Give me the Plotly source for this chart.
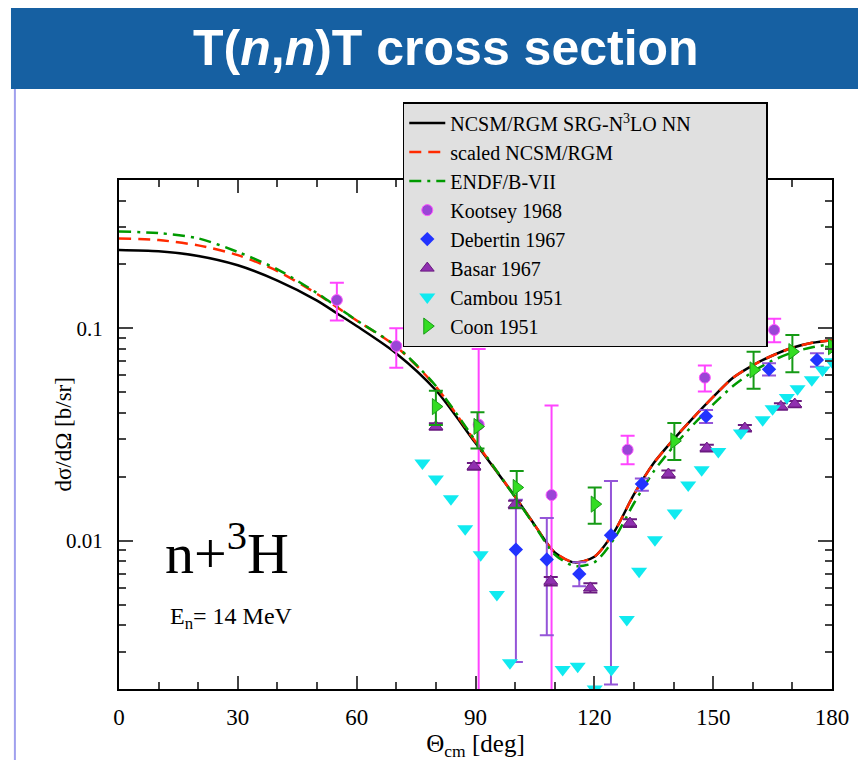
import plotly.graph_objects as go

# ---------------- data ----------------
curve_angle = [0, 10, 20, 30, 40, 50, 55, 60, 70, 80, 90, 100, 105, 110, 115, 120,
               125, 130, 135, 140, 145, 150, 155, 160, 165, 170, 175, 180]
ncsm = [0.234, 0.2307, 0.2193, 0.1982, 0.1679, 0.1352, 0.1178, 0.1026, 0.0762, 0.0511, 0.0288,
        0.0161, 0.0118, 0.0088, 0.0079, 0.0084, 0.0110, 0.0165, 0.0232, 0.0300, 0.0380,
        0.0475, 0.0585, 0.0670, 0.0745, 0.0810, 0.0855, 0.0880]
scaled = [0.265, 0.2606, 0.246, 0.2213, 0.1862, 0.1452, 0.1259, 0.1089, 0.0820, 0.0532, 0.0292,
          0.0161, 0.0118, 0.0088, 0.0079, 0.0084, 0.0110, 0.0165, 0.0232, 0.0300, 0.0380,
          0.0475, 0.0585, 0.0670, 0.0745, 0.0810, 0.0855, 0.0880]
endf = [0.286, 0.281, 0.2655, 0.229, 0.1897, 0.1466, 0.1265, 0.1091, 0.0824, 0.0535, 0.0295,
        0.0160, 0.0117, 0.0086, 0.0076, 0.0079, 0.0102, 0.0150, 0.0212, 0.0278, 0.0352,
        0.0438, 0.0535, 0.0625, 0.0705, 0.0770, 0.0815, 0.0845]

kootsey_x = [55, 70, 90.8, 109.2, 128.4, 147.9, 165.4]
kootsey_y = [0.136, 0.0826, 0.0352, 0.0164, 0.0268, 0.0586, 0.0983]
kootsey_hi = [0.164, 0.100, 0.080, 0.0433, 0.0312, 0.0668, 0.111]
kootsey_lo = [0.109, 0.0653, 0.0005, 0.0005, 0.0229, 0.0504, 0.086]

debertin_x = [100.2, 108.0, 116.2, 124.2, 132.0, 148.2, 164.1, 176.2]
debertin_y = [0.00908, 0.00815, 0.00697, 0.0106, 0.0185, 0.0385, 0.0641, 0.0710]
debertin_hi = [0.0156, 0.0128, 0.0079, 0.0191, 0.0196, 0.0413, 0.0685, 0.0763]
debertin_lo = [0.00268, 0.00358, 0.0061, 0.0021, 0.0172, 0.0358, 0.0599, 0.0660]

basar_x = [80, 89.6, 100, 109, 119, 129, 138.7, 148.4, 158, 167.1, 170.6]
basar_y = [0.0345, 0.0224, 0.0148, 0.00644, 0.00599, 0.0121, 0.0206, 0.0273, 0.0339, 0.0429, 0.0440]
basar_err = [0.0012, 0.0008, 0.0006, 0.0003, 0.0003, 0.0005, 0.0008, 0.0010, 0.0012, 0.0015, 0.0015]

cambou_x = [76.6, 80, 83.8, 87.4, 91.3, 95.4, 98.7, 112, 115.8, 120.1, 124.3, 128.2, 131.3,
            135.3, 140.3, 143.7, 147.1, 151.3, 157, 162.5, 165, 168.6, 171.3, 174.9, 177.6, 180]
cambou_y = [0.0232, 0.0195, 0.01576, 0.01138, 0.00859, 0.00557, 0.00266, 0.00247, 0.00256,
            0.0020, 0.00247, 0.00425, 0.00718, 0.0101, 0.0135, 0.0183, 0.0216, 0.0263,
            0.0321, 0.0371, 0.0418, 0.0472, 0.0519, 0.0572, 0.0637, 0.0697]

coon_x = [80, 90.5, 100.4, 120.1, 140.2, 160.2, 170, 180]
coon_y = [0.0428, 0.0345, 0.0178, 0.01486, 0.0295, 0.0637, 0.0777, 0.082]
coon_hi = [0.0508, 0.0403, 0.0213, 0.0178, 0.0358, 0.0777, 0.093, 0.082]
coon_lo = [0.0351, 0.0272, 0.0143, 0.0120, 0.0240, 0.0519, 0.0621, 0.082]

x_ticks = [0, 30, 60, 90, 120, 150, 180]
y_ticks = [0.01, 0.1]
y_ticktext = ["0.01", "0.1"]

# ---------------- figure ----------------
SERIF = "Liberation Serif, Times New Roman, serif"
PAD = "\u00a0" * 14  # widen legend box to match the reference frame
fig = go.Figure()

fig.add_trace(go.Scatter(x=curve_angle, y=ncsm, mode="lines",
                         line=dict(color="black", width=2.5, shape="spline", smoothing=0.8),
                         name="NCSM/RGM SRG-N<sup>3</sup>LO NN" + PAD))
fig.add_trace(go.Scatter(x=curve_angle, y=scaled, mode="lines",
                         line=dict(color="#ff2a00", width=2.5, dash="12px,7px", shape="spline", smoothing=0.8),
                         name="scaled NCSM/RGM"))
fig.add_trace(go.Scatter(x=curve_angle, y=endf, mode="lines",
                         line=dict(color="#009a00", width=2.5, dash="12px,6px,3px,6px", shape="spline", smoothing=0.8),
                         name="ENDF/B-VII"))


def errs(y, hi, lo):
    return [h - v for v, h in zip(y, hi)], [v - l for v, l in zip(y, lo)]


kp, km = errs(kootsey_y, kootsey_hi, kootsey_lo)
fig.add_trace(go.Scatter(x=kootsey_x, y=kootsey_y, mode="markers", name="Kootsey 1968",
                         marker=dict(symbol="circle", size=11, color="#9a45d6",
                                     line=dict(color="#ff55ff", width=1)),
                         error_y=dict(type="data", array=kp, arrayminus=km, color="#ff44ff",
                                      thickness=2, width=7)))
dp, dm = errs(debertin_y, debertin_hi, debertin_lo)
fig.add_trace(go.Scatter(x=debertin_x, y=debertin_y, mode="markers", name="Debertin 1967",
                         marker=dict(symbol="diamond", size=11, color="#2233ff"),
                         error_y=dict(type="data", array=dp, arrayminus=dm, color="#9455d8",
                                      thickness=2, width=7)))
fig.add_trace(go.Scatter(x=basar_x, y=basar_y, mode="markers", name="Basar 1967",
                         marker=dict(symbol="triangle-up", size=12, color="#9030b0",
                                     line=dict(color="#6a1a80", width=1)),
                         error_y=dict(type="data", array=basar_err, color="#6a1a80",
                                      thickness=2, width=7)))
fig.add_trace(go.Scatter(x=cambou_x, y=cambou_y, mode="markers", name="Cambou 1951",
                         marker=dict(symbol="triangle-down", size=14, color="#10eaf0")))
cp, cm = errs(coon_y, coon_hi, coon_lo)
fig.add_trace(go.Scatter(x=coon_x, y=coon_y, mode="markers", name="Coon 1951",
                         marker=dict(symbol="triangle-right", size=14, color="#33dd22",
                                     line=dict(color="#1a9a1a", width=1)),
                         error_y=dict(type="data", array=cp, arrayminus=cm, color="#159a15",
                                      thickness=2, width=7)))

minor_y = [m * 10 ** e for e in (-3, -2, -1) for m in range(2, 10)]

fig.update_layout(
    width=866, height=760,
    margin=dict(l=111, r=42, t=172, b=79),
    paper_bgcolor="white", plot_bgcolor="white",
    font=dict(family=SERIF, color="black", size=20),
    showlegend=True,
    legend=dict(x=0.398, y=1.153, xanchor="left", yanchor="top",
                bgcolor="#e0e0e0", bordercolor="black", borderwidth=1.5,
                font=dict(family=SERIF, size=20, color="black"), tracegroupgap=0,
                itemwidth=36),
    xaxis=dict(range=[0, 180], tickvals=x_ticks, ticks="inside", ticklen=13, tickwidth=2,
               showline=True, linecolor="black", linewidth=2, mirror="ticks",
               showgrid=False, zeroline=False, tickfont=dict(family=SERIF, size=23),
               ticklabelstandoff=6,
               minor=dict(dtick=10, ticks="inside", ticklen=7, tickwidth=1.5, showgrid=False),
               title=dict(text="Θ<sub>cm</sub> [deg]", font=dict(family=SERIF, size=25), standoff=2)),
    yaxis=dict(type="log", range=[-2.69897, -0.30103], tickvals=y_ticks, ticktext=y_ticktext,
               ticks="inside", ticklen=14, tickwidth=2,
               showline=True, linecolor="black", linewidth=2, mirror="ticks",
               showgrid=False, zeroline=False, tickfont=dict(family=SERIF, size=21),
               ticklabelstandoff=10,
               minor=dict(tickvals=minor_y, ticks="inside", ticklen=7, tickwidth=1.5, showgrid=False)),
)

# y-axis title placed as rotated text next to tick labels
fig.add_annotation(xref="paper", yref="paper", x=-0.0785, y=0.5, xanchor="center", yanchor="middle",
                   text="dσ/dΩ [b/sr]", textangle=-90, showarrow=False,
                   font=dict(family=SERIF, size=23))

# header banner
fig.add_shape(type="rect", xref="paper", yref="paper", x0=-0.1515, x1=1.06, y0=1.179, y1=1.338,
              fillcolor="#1660a2", line=dict(width=0), layer="above")
fig.add_annotation(xref="paper", yref="paper", x=0.458, y=1.2585, xanchor="center", yanchor="middle",
                   text="<b>T(<i>n</i>,<i>n</i>)T cross section</b>", showarrow=False,
                   font=dict(family="Liberation Sans, Arial, sans-serif", size=50, color="white"))
# left border line of slide
fig.add_shape(type="line", xref="paper", yref="paper", x0=-0.146, x1=-0.146, y0=1.179, y1=-0.16,
              line=dict(color="#a0a0ee", width=2))

# text annotations inside plot
fig.add_annotation(xref="paper", yref="paper", x=0.062, y=0.275, xanchor="left", yanchor="middle",
                   text="n+<sup>3</sup>H", showarrow=False, font=dict(family=SERIF, size=58))
fig.add_annotation(xref="paper", yref="paper", x=0.069, y=0.14, xanchor="left", yanchor="middle",
                   text="E<sub>n</sub>= 14 MeV", showarrow=False, font=dict(family=SERIF, size=24))

fig.write_html("out.html")
